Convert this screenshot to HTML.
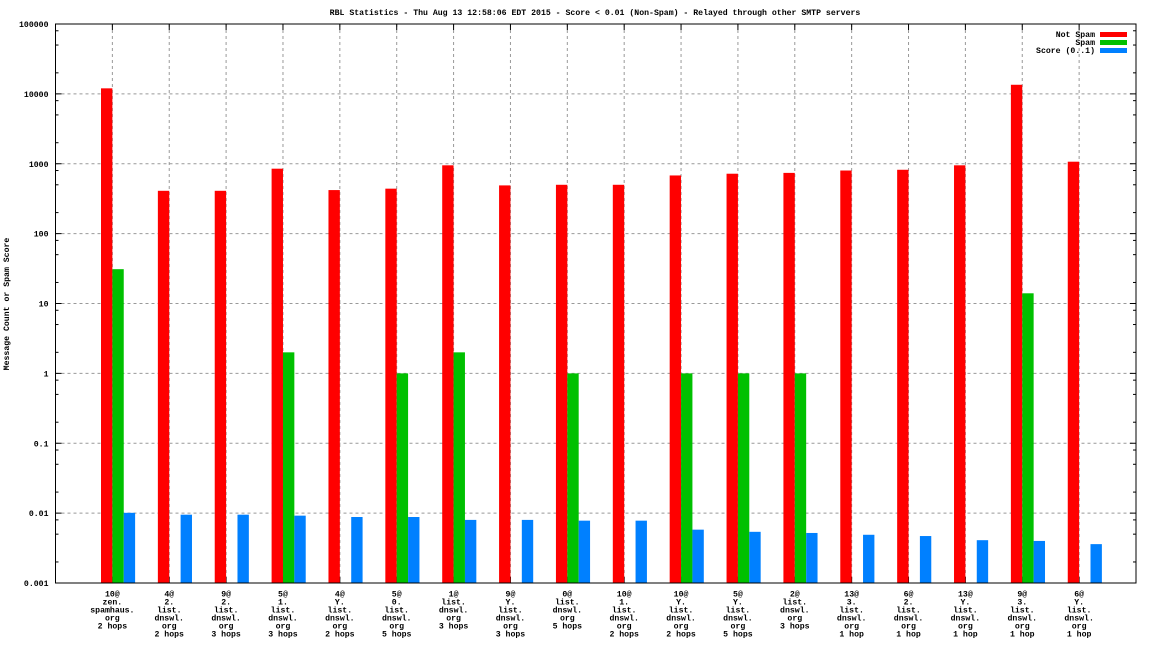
<!DOCTYPE html>
<html><head><meta charset="utf-8"><style>
body{margin:0;background:#fff}
svg{display:block;font-family:"Liberation Mono",monospace;font-size:8.2px;font-weight:bold}
</style></head><body>
<svg id="c" width="1152" height="648" xmlns="http://www.w3.org/2000/svg"></svg>
<script>
const categories=[
["10@","zen.","spamhaus.","org","2 hops"],["4@","2.","list.","dnswl.","org","2 hops"],["9@","2.","list.","dnswl.","org","3 hops"],
["5@","1.","list.","dnswl.","org","3 hops"],["4@","Y.","list.","dnswl.","org","2 hops"],["5@","0.","list.","dnswl.","org","5 hops"],
["1@","list.","dnswl.","org","3 hops"],["9@","Y.","list.","dnswl.","org","3 hops"],["0@","list.","dnswl.","org","5 hops"],
["10@","1.","list.","dnswl.","org","2 hops"],["10@","Y.","list.","dnswl.","org","2 hops"],["5@","Y.","list.","dnswl.","org","5 hops"],
["2@","list.","dnswl.","org","3 hops"],["13@","3.","list.","dnswl.","org","1 hop"],["6@","2.","list.","dnswl.","org","1 hop"],
["13@","Y.","list.","dnswl.","org","1 hop"],["9@","3.","list.","dnswl.","org","1 hop"],["6@","Y.","list.","dnswl.","org","1 hop"]];
const notSpam=[12000,410,410,850,420,440,950,490,500,500,680,720,740,800,820,950,13500,1070];
const spam=[31,0,0,2,0,1,2,0,1,0,1,1,1,0,0,0,14,0];
const score=[0.0101,0.0095,0.0095,0.0092,0.0088,0.0088,0.0080,0.0080,0.0078,0.0078,0.0058,0.0054,0.0052,0.0049,0.0047,0.0041,0.0040,0.0036];
const yTicks=[0.001,0.01,0.1,1,10,100,1000,10000,100000];
const yTickLabels=["0.001","0.01","0.1","1","10","100","1000","10000","100000"];

const svg=document.getElementById('c');const NS="http://www.w3.org/2000/svg";
const L=55.5,R=1136,T=24,B=583;
const yMinL=Math.log10(0.001),yMaxL=Math.log10(100000);
function y(v){return B-(Math.log10(v)-yMinL)/(yMaxL-yMinL)*(B-T);}
const slot=(R-L)/(categories.length+1);
function x(i){return L+(i+1)*slot;}
function el(t,a,txt){const e=document.createElementNS(NS,t);for(const k in a)e.setAttribute(k,a[k]);if(txt!==undefined)e.textContent=txt;svg.appendChild(e);return e;}
let e;
e=el('text',{x:595,y:15,'text-anchor':'middle'},'RBL Statistics - Thu Aug 13 12:58:06 EDT 2015 - Score < 0.01 (Non-Spam) - Relayed through other SMTP servers');


e=el('text',{x:9,y:304,'text-anchor':'middle',transform:'rotate(-90 9 304)'},'Message Count or Spam Score');


yTicks.forEach((v,k)=>{const yy=y(v);
 if(k>0&&k<yTicks.length-1){e=el('line',{x1:L,x2:R,y1:yy,y2:yy,stroke:'#999','stroke-dasharray':'3,3'});
 
 }
 el('line',{x1:L,x2:L+6,y1:yy,y2:yy,stroke:'#000'});el('line',{x1:R,x2:R-6,y1:yy,y2:yy,stroke:'#000'});
 e=el('text',{x:L-7,y:yy+3,'text-anchor':'end'},yTickLabels[k]);
 
 
 if(k<yTicks.length-1)[2,5,8].forEach(m=>{const my=y(v*m);el('line',{x1:L,x2:L+3,y1:my,y2:my,stroke:'#000'});el('line',{x1:R,x2:R-3,y1:my,y2:my,stroke:'#000'});});
});
categories.forEach((c,i)=>{const cx=x(i);
 e=el('line',{x1:cx,x2:cx,y1:T,y2:B,stroke:'#999','stroke-dasharray':'3,3'});
 
 
 el('line',{x1:cx,x2:cx,y1:T,y2:T+6,stroke:'#000'});el('line',{x1:cx,x2:cx,y1:B,y2:B-6,stroke:'#000'});
 c.forEach((ln,j)=>{e=el('text',{x:cx,y:596.5+j*8,'text-anchor':'middle'},ln);
  
  });
});
const bw=slot*0.2;
function bars(arr,off,col,name){arr.forEach((v,i)=>{if(v<=0.001)return;const yy=y(v);
 e=el('rect',{x:x(i)+off*bw,y:yy,width:bw,height:B-yy,fill:col});
 
 });}
bars(notSpam,-1,'#ff0000','bar-not-spam');
bars(spam,0,'#00c000','bar-spam');
bars(score,1,'#0080ff','bar-score');
e=el('rect',{x:L,y:T,width:R-L,height:B-T,fill:'none',stroke:'#000','stroke-width':1});


const legend=[["Not Spam","#ff0000"],["Spam","#00c000"],["Score (0..1)","#0080ff"]];
legend.forEach((l,k)=>{const yy=34+k*8;
 e=el('text',{x:1095,y:yy+3,'text-anchor':'end'},l[0]);
 
 
 el('rect',{x:1100,y:yy-2,width:27,height:5,fill:l[1]});});
</script>
</body></html>
